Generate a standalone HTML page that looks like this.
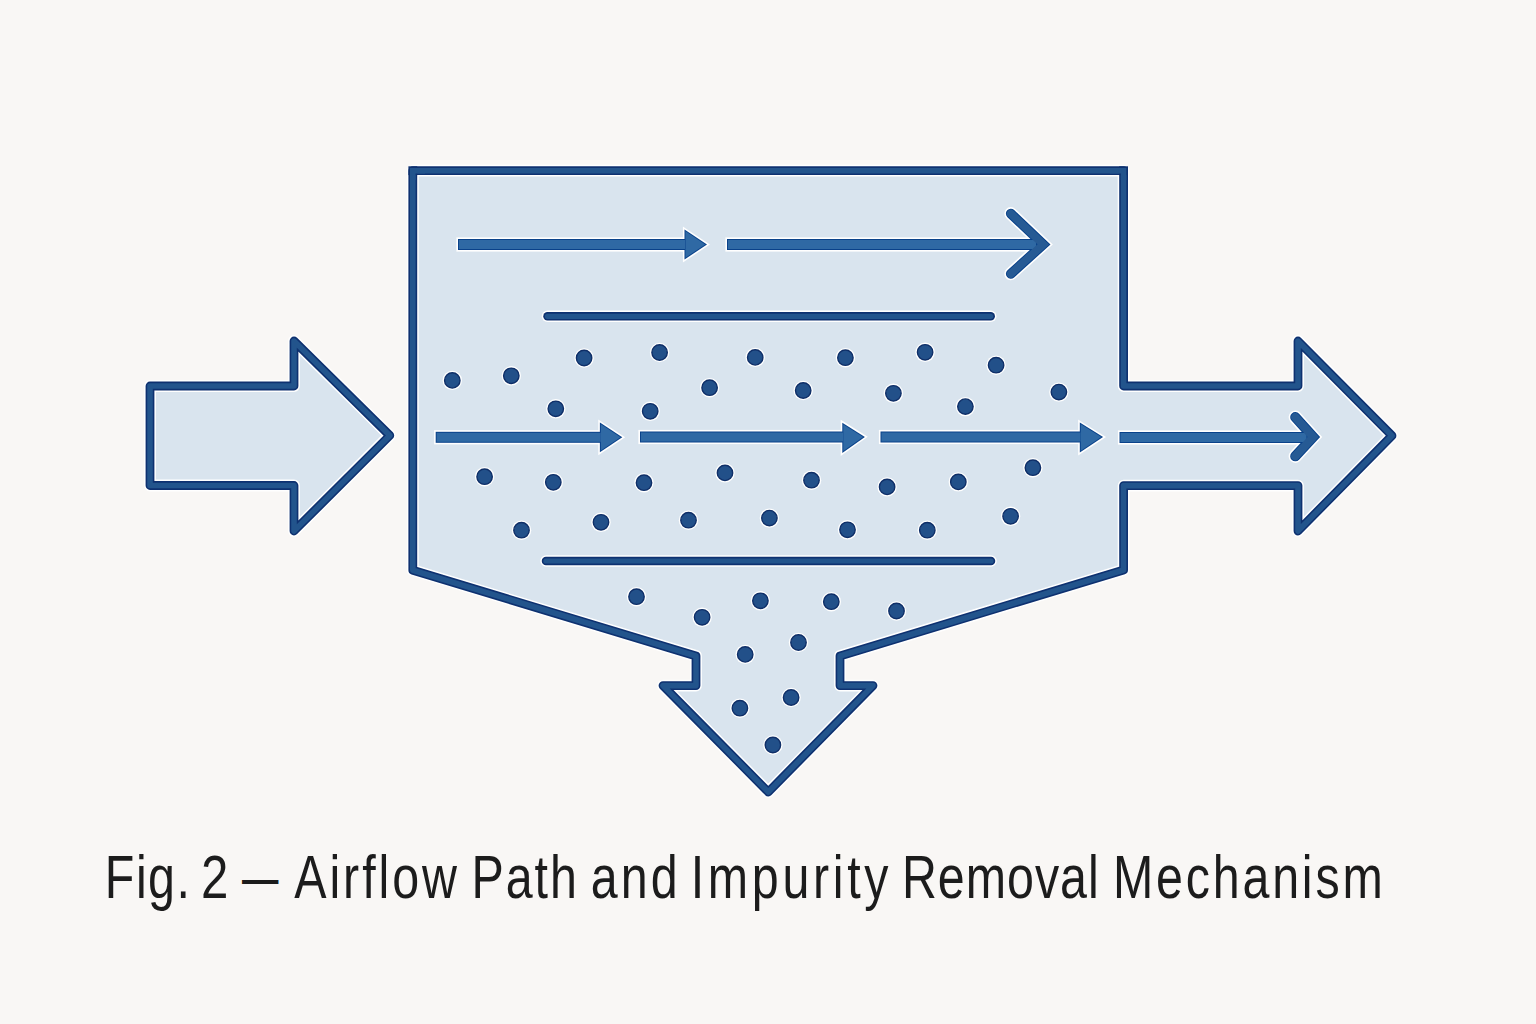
<!DOCTYPE html>
<html>
<head>
<meta charset="utf-8">
<style>
html,body{margin:0;padding:0;background:#f9f7f5;width:1536px;height:1024px;overflow:hidden;}
svg{display:block;position:absolute;left:0;top:0;}
</style>
</head>
<body>
<svg width="1536" height="1024" viewBox="0 0 1536 1024">
<g stroke-linejoin="round">
<path d="M150 386 H294 V341 L389.8 435.5 L294 531 V485.5 H150 Z" fill="#d9e4ee"/><path d="M150 386 H294 V341 L389.8 435.5 L294 531 V485.5 H150 Z" fill="none" stroke="#fff" stroke-width="11.8"/><path d="M150 386 H294 V341 L389.8 435.5 L294 531 V485.5 H150 Z" fill="none" stroke="#0e3170" stroke-width="8.8"/><path d="M150 386 H294 V341 L389.8 435.5 L294 531 V485.5 H150 Z" fill="none" stroke="#22548c" stroke-width="5.6"/>
<path d="M412.8 170.7 H1123.6 V386 H1298 V341 L1392 435.7 L1298 531 V485.6 H1123.6 V570 L840 656 V685.6 H873 L768.3 792 L663 685.6 H696 V656 L412.8 570.2 Z" fill="#d9e4ee"/><path d="M412.8 170.7 H1123.6 V386 H1298 V341 L1392 435.7 L1298 531 V485.6 H1123.6 V570 L840 656 V685.6 H873 L768.3 792 L663 685.6 H696 V656 L412.8 570.2 Z" fill="none" stroke="#fff" stroke-width="11.8"/><path d="M412.8 170.7 H1123.6 V386 H1298 V341 L1392 435.7 L1298 531 V485.6 H1123.6 V570 L840 656 V685.6 H873 L768.3 792 L663 685.6 H696 V656 L412.8 570.2 Z" fill="none" stroke="#0e3170" stroke-width="8.8"/><path d="M412.8 170.7 H1123.6 V386 H1298 V341 L1392 435.7 L1298 531 V485.6 H1123.6 V570 L840 656 V685.6 H873 L768.3 792 L663 685.6 H696 V656 L412.8 570.2 Z" fill="none" stroke="#22548c" stroke-width="5.6"/>
</g>
<rect x="408.4" y="166.3" width="8.8" height="8.8" fill="#0e3170"/><path d="M412.8 180 V170.7 H425" fill="none" stroke="#22548c" stroke-width="5.6" stroke-linejoin="miter"/><rect x="1119.2" y="166.3" width="8.8" height="8.8" fill="#0e3170"/><path d="M1110 170.7 H1123.6 V180" fill="none" stroke="#22548c" stroke-width="5.6" stroke-linejoin="miter"/>
<g stroke-linecap="round">
<line x1="547.5" y1="316.3" x2="990.7" y2="316.3" stroke="#fff" stroke-width="11.5"/><line x1="547.5" y1="316.3" x2="990.7" y2="316.3" stroke="#0e3170" stroke-width="8.5"/><line x1="547.5" y1="316.3" x2="990.7" y2="316.3" stroke="#22548c" stroke-width="5.2"/>
<line x1="546" y1="561" x2="991" y2="561" stroke="#fff" stroke-width="11.5"/><line x1="546" y1="561" x2="991" y2="561" stroke="#0e3170" stroke-width="8.5"/><line x1="546" y1="561" x2="991" y2="561" stroke="#22548c" stroke-width="5.2"/>
</g>

<g><rect x="456.4" y="237.4" width="231.2" height="14.2" fill="#fff"/>
<polygon points="684.5,229.5 707,244.5 684.5,259.5" fill="#fff" stroke="#fff" stroke-width="3.2" stroke-linejoin="miter"/>
<rect x="725.4" y="237.4" width="313.2" height="14.2" fill="#fff"/>
<polyline points="1010.8,213.6 1043.3,244.4 1010.8,273.8" fill="none" stroke="#fff" stroke-width="13.0" stroke-linecap="round" stroke-linejoin="miter"/>
<rect x="434.09999999999997" y="430.2" width="169.2" height="14.2" fill="#fff"/>
<polygon points="599.9,422.5 622.3,437.2 599.9,452.3" fill="#fff" stroke="#fff" stroke-width="3.2" stroke-linejoin="miter"/>
<rect x="638.4" y="429.9" width="207.2" height="14.2" fill="#fff"/>
<polygon points="842.3,422.7 864.9,436.9 842.3,453.0" fill="#fff" stroke="#fff" stroke-width="3.2" stroke-linejoin="miter"/>
<rect x="878.9" y="429.9" width="204.2" height="14.2" fill="#fff"/>
<polygon points="1079.8,422.5 1103.1,437 1079.8,452.5" fill="#fff" stroke="#fff" stroke-width="3.2" stroke-linejoin="miter"/>
<rect x="1117.9" y="430.4" width="191.2" height="14.2" fill="#fff"/>
<polyline points="1295.3,417.2 1313.2,437 1295.3,456.2" fill="none" stroke="#fff" stroke-width="13.399999999999999" stroke-linecap="round" stroke-linejoin="miter"/></g>
<g><rect x="458.0" y="239.0" width="228.0" height="11.0" fill="#0a428a"/>
<polygon points="684.5,229.5 707,244.5 684.5,259.5" fill="#0a428a"/>
<rect x="727.0" y="239.0" width="310.0" height="11.0" fill="#0a428a"/>
<polyline points="1010.8,213.6 1043.3,244.4 1010.8,273.8" fill="none" stroke="#0a428a" stroke-width="9.8" stroke-linecap="round" stroke-linejoin="miter"/>
<rect x="435.7" y="431.8" width="166.0" height="11.0" fill="#0a428a"/>
<polygon points="599.9,422.5 622.3,437.2 599.9,452.3" fill="#0a428a"/>
<rect x="640.0" y="431.5" width="204.0" height="11.0" fill="#0a428a"/>
<polygon points="842.3,422.7 864.9,436.9 842.3,453.0" fill="#0a428a"/>
<rect x="880.5" y="431.5" width="201.0" height="11.0" fill="#0a428a"/>
<polygon points="1079.8,422.5 1103.1,437 1079.8,452.5" fill="#0a428a"/>
<rect x="1119.5" y="432.0" width="188.0" height="11.0" fill="#0a428a"/>
<polyline points="1295.3,417.2 1313.2,437 1295.3,456.2" fill="none" stroke="#0a428a" stroke-width="10.2" stroke-linecap="round" stroke-linejoin="miter"/></g>
<g><rect x="459.0" y="240.0" width="226.0" height="9.0" fill="#2f69a4"/>
<polygon points="685.50,231.37 705.20,244.50 685.50,257.63" fill="#2f69a4"/>
<rect x="728.0" y="240.0" width="308.0" height="9.0" fill="#2f69a4"/>
<polyline points="1010.8,213.6 1043.3,244.4 1010.8,273.8" fill="none" stroke="#265a94" stroke-width="7.800000000000001" stroke-linecap="round" stroke-linejoin="miter"/>
<rect x="436.7" y="432.8" width="164.0" height="9.0" fill="#2f69a4"/>
<polygon points="600.90,424.35 620.49,437.21 600.90,450.42" fill="#2f69a4"/>
<rect x="641.0" y="432.5" width="202.0" height="9.0" fill="#2f69a4"/>
<polygon points="843.30,424.51 863.10,436.95 843.30,451.06" fill="#2f69a4"/>
<rect x="881.5" y="432.5" width="199.0" height="9.0" fill="#2f69a4"/>
<polygon points="1080.80,424.30 1101.25,437.03 1080.80,450.63" fill="#2f69a4"/>
<rect x="1120.5" y="433.0" width="186.0" height="9.0" fill="#2f69a4"/>
<polyline points="1295.3,417.2 1313.2,437 1295.3,456.2" fill="none" stroke="#265a94" stroke-width="8.2" stroke-linecap="round" stroke-linejoin="miter"/></g>
<g>
<circle cx="452.3" cy="380.4" r="9.7" fill="#fff"/><circle cx="452.3" cy="380.4" r="7.7" fill="#225089" stroke="#0f2f68" stroke-width="1.4"/>
<circle cx="511.3" cy="375.8" r="9.7" fill="#fff"/><circle cx="511.3" cy="375.8" r="7.7" fill="#225089" stroke="#0f2f68" stroke-width="1.4"/>
<circle cx="584.1" cy="358.0" r="9.7" fill="#fff"/><circle cx="584.1" cy="358.0" r="7.7" fill="#225089" stroke="#0f2f68" stroke-width="1.4"/>
<circle cx="659.6" cy="352.5" r="9.7" fill="#fff"/><circle cx="659.6" cy="352.5" r="7.7" fill="#225089" stroke="#0f2f68" stroke-width="1.4"/>
<circle cx="709.6" cy="387.7" r="9.7" fill="#fff"/><circle cx="709.6" cy="387.7" r="7.7" fill="#225089" stroke="#0f2f68" stroke-width="1.4"/>
<circle cx="555.8" cy="408.8" r="9.7" fill="#fff"/><circle cx="555.8" cy="408.8" r="7.7" fill="#225089" stroke="#0f2f68" stroke-width="1.4"/>
<circle cx="650.2" cy="411.3" r="9.7" fill="#fff"/><circle cx="650.2" cy="411.3" r="7.7" fill="#225089" stroke="#0f2f68" stroke-width="1.4"/>
<circle cx="755.2" cy="357.4" r="9.7" fill="#fff"/><circle cx="755.2" cy="357.4" r="7.7" fill="#225089" stroke="#0f2f68" stroke-width="1.4"/>
<circle cx="845.4" cy="357.7" r="9.7" fill="#fff"/><circle cx="845.4" cy="357.7" r="7.7" fill="#225089" stroke="#0f2f68" stroke-width="1.4"/>
<circle cx="925.1" cy="352.3" r="9.7" fill="#fff"/><circle cx="925.1" cy="352.3" r="7.7" fill="#225089" stroke="#0f2f68" stroke-width="1.4"/>
<circle cx="996.1" cy="365.2" r="9.7" fill="#fff"/><circle cx="996.1" cy="365.2" r="7.7" fill="#225089" stroke="#0f2f68" stroke-width="1.4"/>
<circle cx="803.2" cy="390.5" r="9.7" fill="#fff"/><circle cx="803.2" cy="390.5" r="7.7" fill="#225089" stroke="#0f2f68" stroke-width="1.4"/>
<circle cx="893.4" cy="393.3" r="9.7" fill="#fff"/><circle cx="893.4" cy="393.3" r="7.7" fill="#225089" stroke="#0f2f68" stroke-width="1.4"/>
<circle cx="965.4" cy="406.6" r="9.7" fill="#fff"/><circle cx="965.4" cy="406.6" r="7.7" fill="#225089" stroke="#0f2f68" stroke-width="1.4"/>
<circle cx="1058.9" cy="392.1" r="9.7" fill="#fff"/><circle cx="1058.9" cy="392.1" r="7.7" fill="#225089" stroke="#0f2f68" stroke-width="1.4"/>
<circle cx="484.6" cy="476.7" r="9.7" fill="#fff"/><circle cx="484.6" cy="476.7" r="7.7" fill="#225089" stroke="#0f2f68" stroke-width="1.4"/>
<circle cx="553.3" cy="482.3" r="9.7" fill="#fff"/><circle cx="553.3" cy="482.3" r="7.7" fill="#225089" stroke="#0f2f68" stroke-width="1.4"/>
<circle cx="644" cy="482.7" r="9.7" fill="#fff"/><circle cx="644" cy="482.7" r="7.7" fill="#225089" stroke="#0f2f68" stroke-width="1.4"/>
<circle cx="725" cy="472.9" r="9.7" fill="#fff"/><circle cx="725" cy="472.9" r="7.7" fill="#225089" stroke="#0f2f68" stroke-width="1.4"/>
<circle cx="521.5" cy="530.2" r="9.7" fill="#fff"/><circle cx="521.5" cy="530.2" r="7.7" fill="#225089" stroke="#0f2f68" stroke-width="1.4"/>
<circle cx="601" cy="522.3" r="9.7" fill="#fff"/><circle cx="601" cy="522.3" r="7.7" fill="#225089" stroke="#0f2f68" stroke-width="1.4"/>
<circle cx="688.5" cy="520.2" r="9.7" fill="#fff"/><circle cx="688.5" cy="520.2" r="7.7" fill="#225089" stroke="#0f2f68" stroke-width="1.4"/>
<circle cx="769.4" cy="518.1" r="9.7" fill="#fff"/><circle cx="769.4" cy="518.1" r="7.7" fill="#225089" stroke="#0f2f68" stroke-width="1.4"/>
<circle cx="811.5" cy="480.2" r="9.7" fill="#fff"/><circle cx="811.5" cy="480.2" r="7.7" fill="#225089" stroke="#0f2f68" stroke-width="1.4"/>
<circle cx="887.1" cy="486.9" r="9.7" fill="#fff"/><circle cx="887.1" cy="486.9" r="7.7" fill="#225089" stroke="#0f2f68" stroke-width="1.4"/>
<circle cx="958.3" cy="481.9" r="9.7" fill="#fff"/><circle cx="958.3" cy="481.9" r="7.7" fill="#225089" stroke="#0f2f68" stroke-width="1.4"/>
<circle cx="1032.9" cy="467.7" r="9.7" fill="#fff"/><circle cx="1032.9" cy="467.7" r="7.7" fill="#225089" stroke="#0f2f68" stroke-width="1.4"/>
<circle cx="847.5" cy="529.8" r="9.7" fill="#fff"/><circle cx="847.5" cy="529.8" r="7.7" fill="#225089" stroke="#0f2f68" stroke-width="1.4"/>
<circle cx="927.3" cy="530.2" r="9.7" fill="#fff"/><circle cx="927.3" cy="530.2" r="7.7" fill="#225089" stroke="#0f2f68" stroke-width="1.4"/>
<circle cx="1010.6" cy="516.3" r="9.7" fill="#fff"/><circle cx="1010.6" cy="516.3" r="7.7" fill="#225089" stroke="#0f2f68" stroke-width="1.4"/>
<circle cx="636.5" cy="596.7" r="9.7" fill="#fff"/><circle cx="636.5" cy="596.7" r="7.7" fill="#225089" stroke="#0f2f68" stroke-width="1.4"/>
<circle cx="702.1" cy="617.3" r="9.7" fill="#fff"/><circle cx="702.1" cy="617.3" r="7.7" fill="#225089" stroke="#0f2f68" stroke-width="1.4"/>
<circle cx="760.4" cy="600.8" r="9.7" fill="#fff"/><circle cx="760.4" cy="600.8" r="7.7" fill="#225089" stroke="#0f2f68" stroke-width="1.4"/>
<circle cx="831.3" cy="601.7" r="9.7" fill="#fff"/><circle cx="831.3" cy="601.7" r="7.7" fill="#225089" stroke="#0f2f68" stroke-width="1.4"/>
<circle cx="896.5" cy="611" r="9.7" fill="#fff"/><circle cx="896.5" cy="611" r="7.7" fill="#225089" stroke="#0f2f68" stroke-width="1.4"/>
<circle cx="745.2" cy="654.4" r="9.7" fill="#fff"/><circle cx="745.2" cy="654.4" r="7.7" fill="#225089" stroke="#0f2f68" stroke-width="1.4"/>
<circle cx="798.5" cy="642.5" r="9.7" fill="#fff"/><circle cx="798.5" cy="642.5" r="7.7" fill="#225089" stroke="#0f2f68" stroke-width="1.4"/>
<circle cx="791.1" cy="697.5" r="9.7" fill="#fff"/><circle cx="791.1" cy="697.5" r="7.7" fill="#225089" stroke="#0f2f68" stroke-width="1.4"/>
<circle cx="739.9" cy="708.2" r="9.7" fill="#fff"/><circle cx="739.9" cy="708.2" r="7.7" fill="#225089" stroke="#0f2f68" stroke-width="1.4"/>
<circle cx="772.9" cy="745" r="9.7" fill="#fff"/><circle cx="772.9" cy="745" r="7.7" fill="#225089" stroke="#0f2f68" stroke-width="1.4"/>
</g>
<g font-family="Liberation Sans, sans-serif" font-size="60.47" fill="#1c1c1c">
<text transform="translate(104.85,897.7) scale(0.8,1)" letter-spacing="1.854">Fig.</text>
<text transform="translate(200.90,897.7) scale(0.8143,1)" letter-spacing="0">2</text>
<text transform="translate(241.90,897.7) scale(0.6016,1)" letter-spacing="0">—</text>
<text transform="translate(294.20,897.7) scale(0.8,1)" letter-spacing="3.688">Airflow</text>
<text transform="translate(471.40,897.7) scale(0.8,1)" letter-spacing="2.458">Path</text>
<text transform="translate(590.80,897.7) scale(0.8,1)" letter-spacing="3.813">and</text>
<text transform="translate(690.70,897.7) scale(0.8,1)" letter-spacing="4.607">Impurity</text>
<text transform="translate(901.90,897.7) scale(0.8,1)" letter-spacing="1.25">Removal</text>
<text transform="translate(1112.90,897.7) scale(0.8,1)" letter-spacing="3.516">Mechanism</text>
</g>
</svg>
</body>
</html>
